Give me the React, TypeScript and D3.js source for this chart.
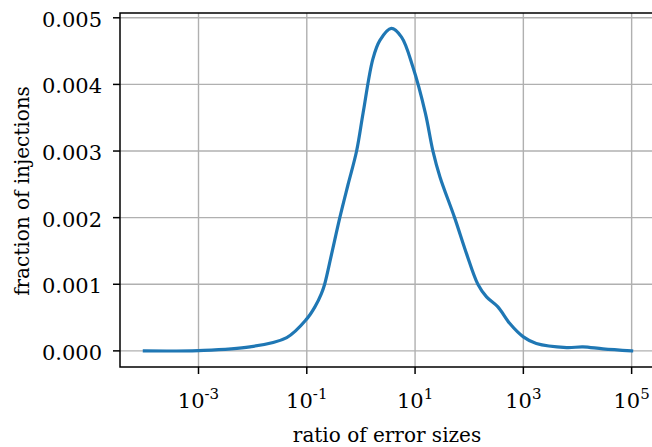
import { useEffect, useRef } from "react";
import * as d3 from "d3";

// log10 of the error-size ratio
const logRatio = [
  -4, -3, -2.05, -1.37, -1.0, -0.85, -0.73, -0.67, -0.54, -0.39, -0.24, -0.08,
  0.04, 0.22, 0.35, 0.56, 0.75, 0.96, 1.19, 1.33, 1.46, 1.73, 1.95,
  2.16, 2.32, 2.53, 2.75, 3.0, 3.24, 3.8, 4.1, 4.47, 5.0,
];
const fraction = [
  0, 0.000005, 0.00006, 0.0002, 0.00048, 0.00066, 0.00086, 0.001, 0.00146,
  0.002, 0.00249, 0.003, 0.00357, 0.00438, 0.00466, 0.00484, 0.00471,
  0.00426, 0.00357, 0.003, 0.00261, 0.002, 0.00146, 0.001, 0.00081,
  0.00066, 0.00041, 0.00021, 0.00011, 0.00005, 0.00006, 0.00003, 0,
];
const xTickExponents = [-3, -1, 1, 3, 5];
const yTicks = [0, 0.001, 0.002, 0.003, 0.004, 0.005];

const width = 652;
const height = 447;
const font = "'DejaVu Serif'";

export default function App() {
  const ref = useRef<SVGSVGElement>(null);

  useEffect(() => {
    document.body.style.margin = "0";
    const svg = d3.select(ref.current);
    svg.selectAll("*").remove();

    const left = 120;
    const right = 656;
    const top = 13;
    const bottom = 367;

    const x = d3
      .scaleLog()
      .domain([10 ** -4.45, 10 ** 5.45])
      .range([left, right]);
    const y = d3.scaleLinear().domain([-0.000242, 0.005072]).range([bottom, top]);

    const data = logRatio.map((e, i) => ({ r: 10 ** e, f: fraction[i] }));

    // grid
    svg
      .append("g")
      .selectAll("line")
      .data(xTickExponents)
      .join("line")
      .attr("x1", (d) => x(10 ** d))
      .attr("x2", (d) => x(10 ** d))
      .attr("y1", top)
      .attr("y2", bottom)
      .attr("stroke", "#b0b0b0")
      .attr("stroke-width", 1.4);
    svg
      .append("g")
      .selectAll("line")
      .data(yTicks)
      .join("line")
      .attr("x1", left)
      .attr("x2", right)
      .attr("y1", (d) => y(d))
      .attr("y2", (d) => y(d))
      .attr("stroke", "#b0b0b0")
      .attr("stroke-width", 1.4);

    // density curve
    const line = d3
      .line<{ r: number; f: number }>()
      .x((d) => x(d.r))
      .y((d) => y(d.f))
      .curve(d3.curveCatmullRom.alpha(0.5));
    svg
      .append("path")
      .datum(data)
      .attr("d", line)
      .attr("fill", "none")
      .attr("stroke", "#1f77b4")
      .attr("stroke-width", 3.2)
      .attr("stroke-linejoin", "round")
      .attr("stroke-linecap", "square");

    // spines
    svg
      .append("path")
      .attr("d", `M${right},${top}H${left}V${bottom}H${right}`)
      .attr("fill", "none")
      .attr("stroke", "black")
      .attr("stroke-width", 1.5);

    // y ticks
    const yt = svg.append("g").style("font-family", font).style("font-size", "21px");
    yt.selectAll("line")
      .data(yTicks)
      .join("line")
      .attr("x1", left - 7)
      .attr("x2", left)
      .attr("y1", (d) => y(d))
      .attr("y2", (d) => y(d))
      .attr("stroke", "black")
      .attr("stroke-width", 1.5);
    yt.selectAll("text")
      .data(yTicks)
      .join("text")
      .attr("x", left - 18)
      .attr("y", (d) => y(d) + 9)
      .attr("text-anchor", "end")
      .text((d) => d.toFixed(3));

    // x ticks
    const xt = svg.append("g").style("font-family", font).style("font-size", "21px");
    xt.selectAll("line")
      .data(xTickExponents)
      .join("line")
      .attr("x1", (d) => x(10 ** d))
      .attr("x2", (d) => x(10 ** d))
      .attr("y1", bottom)
      .attr("y2", bottom + 7)
      .attr("stroke", "black")
      .attr("stroke-width", 1.5);
    const lbl = xt
      .selectAll("text")
      .data(xTickExponents)
      .join("text")
      .attr("x", (d) => x(10 ** d))
      .attr("y", 408)
      .attr("text-anchor", "middle");
    lbl.append("tspan").text("10");
    lbl
      .append("tspan")
      .attr("dy", -9)
      .style("font-size", "15px")
      .text((d) => (d < 0 ? `-${-d}` : `${d}`));

    // axis labels
    svg
      .append("text")
      .attr("x", 387)
      .attr("y", 442)
      .attr("text-anchor", "middle")
      .style("font-family", font)
      .style("font-size", "20px")
      .text("ratio of error sizes");
    svg
      .append("text")
      .attr("transform", `translate(29, ${y(0.0024)}) rotate(-90)`)
      .attr("text-anchor", "middle")
      .style("font-family", font)
      .style("font-size", "20px")
      .text("fraction of injections");
  }, []);

  return (
    <svg
      ref={ref}
      width={width}
      height={height}
      style={{ display: "block", background: "white" }}
    />
  );
}
